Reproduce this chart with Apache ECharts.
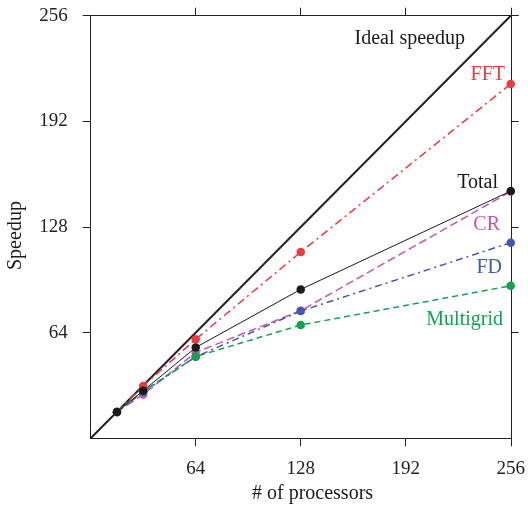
<!DOCTYPE html>
<html>
<head>
<meta charset="utf-8">
<script src="https://cdn.jsdelivr.net/npm/echarts@6/dist/echarts.min.js"></script>
<style>html,body{margin:0;padding:0;background:#fff;}#c{width:528px;height:511px;}</style>
</head>
<body>
<div id="c"></div>
<script>
const processors = [16, 32, 64, 128, 256];
const fft = [16, 31.7, 60, 112.8, 214.6];
const total = [16, 28.8, 55, 90.2, 149.8];
const cr = [16, 26.5, 52, 77.3, 149.5];
const fd = [16, 28, 49.4, 77.1, 118.5];
const multigrid = [16, 28.5, 49.5, 68.6, 92.4];
const ideal = [[0, 0], [256, 256]];
const tickValues = [64, 128, 192, 256];

const FONT = '"Liberation Serif", "DejaVu Serif", serif';
const pair = arr => processors.map((p, i) => [p, arr[i]]);

const chart = echarts.init(document.getElementById('c'), null, {renderer: 'canvas'});

function axisBase(pos, showLabel) {
  return {
    type: 'value', min: 0, max: 256, interval: 64, position: pos,
    axisLine: {show: true, onZero: false, lineStyle: {color: '#222', width: 1}},
    axisTick: {show: true, inside: false, length: 8, customValues: tickValues, lineStyle: {color: '#222', width: 1}},
    axisLabel: {show: showLabel, customValues: tickValues, color: '#222', fontFamily: FONT, fontSize: 19,
      margin: (pos === 'left') ? 23 : 21},
    splitLine: {show: false}
  };
}

const colors = {fft: '#ee3a3f', cr: '#c457b0', fd: '#4358b3', mg: '#13a24e', total: '#1a1a1a'};

function ser(name, arr, color, dash, width, z) {
  return {
    name, type: 'line', data: pair(arr), symbol: 'circle', symbolSize: 8.5,
    itemStyle: {color}, z,
    lineStyle: {color, width: width, type: dash},
    animation: false
  };
}

chart.setOption({
  animation: false,
  grid: {left: 90.7, right: 15.3, top: 15.7, bottom: 72.7},
  xAxis: [axisBase('bottom', true), axisBase('top', false)],
  yAxis: [axisBase('left', true), axisBase('right', false)],
  series: [
    {name: 'Ideal speedup', type: 'line', data: ideal, symbol: 'none', lineStyle: {color: '#222', width: 2}, z: 2},
    ser('FFT', fft, colors.fft, [8, 4, 2, 4], 1.5, 3),
    ser('CR', cr, colors.cr, [8, 4], 1.5, 3),
    ser('FD', fd, colors.fd, [7, 4, 2, 4], 1.5, 3),
    ser('Multigrid', multigrid, colors.mg, [6, 4], 1.5, 3),
    ser('Total', total, colors.total, 'solid', 1, 4)
  ],
  graphic: [
    {type: 'text', right: 63, top: 29, style: {text: 'Ideal speedup', fill: '#1a1a1a', font: '20px ' + FONT}},
    {type: 'text', right: 23, top: 65, style: {text: 'FFT', fill: colors.fft, font: '20px ' + FONT}},
    {type: 'text', right: 30, top: 173, style: {text: 'Total', fill: '#1a1a1a', font: '20px ' + FONT}},
    {type: 'text', right: 28, top: 215, style: {text: 'CR', fill: colors.cr, font: '20px ' + FONT}},
    {type: 'text', right: 26, top: 258, style: {text: 'FD', fill: colors.fd, font: '20px ' + FONT}},
    {type: 'text', right: 25, top: 310, style: {text: 'Multigrid', fill: colors.mg, font: '20px ' + FONT}},
    {type: 'text', left: 252, top: 484, style: {text: '# of processors', fill: '#1a1a1a', font: '20px ' + FONT}},
    {type: 'text', x: 6, y: 270, rotation: Math.PI / 2, style: {text: 'Speedup', fill: '#1a1a1a', font: '20px ' + FONT}}
  ]
});
</script>
</body>
</html>
